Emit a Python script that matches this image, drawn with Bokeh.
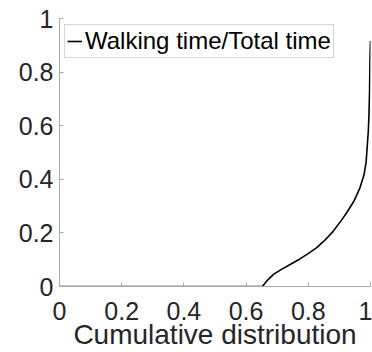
from bokeh.plotting import figure
from bokeh.models import FixedTicker, Legend, LegendItem, Range1d
from bokeh.embed import file_html
from bokeh.resources import INLINE

cum_dist = [0.0, 0.30, 0.60, 0.652, 0.670, 0.689, 0.715, 0.743, 0.770, 0.796, 0.825, 0.850,
            0.878, 0.904, 0.925, 0.946, 0.965, 0.979, 0.986, 0.989, 0.993, 0.995, 0.997, 0.998, 0.999, 1.0]
ratio = [0.0, 0.0, 0.0, 0.0, 0.025, 0.046, 0.065, 0.083, 0.101, 0.120, 0.143, 0.169,
         0.203, 0.243, 0.278, 0.317, 0.365, 0.416, 0.465, 0.515, 0.580, 0.638, 0.730, 0.823, 0.880, 0.916]
ticks = [0, 0.2, 0.4, 0.6, 0.8, 1]
tick_labels = {0: "0", 0.2: "0.2", 0.4: "0.4", 0.6: "0.6", 0.8: "0.8", 1: "1"}
series_label = "Walking time/Total time"
x_label = "Cumulative distribution"

FONT = "Liberation Sans"
TXT = "#262626"

p = figure(width=372, height=352, output_backend="svg", toolbar_location=None,
           x_range=Range1d(0, 1), y_range=Range1d(0, 1),
           min_border_left=59, min_border_right=2, min_border_top=18, min_border_bottom=63)
p.outline_line_color = None
p.xgrid.visible = False
p.ygrid.visible = False
p.background_fill_color = "white"

r = p.line(cum_dist, ratio, line_color="black", line_width=1.6)

for ax in (p.xaxis[0], p.yaxis[0]):
    ax.ticker = FixedTicker(ticks=ticks)
    ax.major_label_overrides = tick_labels
    ax.major_label_text_font = FONT
    ax.major_label_text_font_size = "25px"
    ax.major_label_text_color = TXT
    ax.axis_line_color = "#aaaaaa"
    ax.major_tick_line_color = "#aaaaaa"
    ax.major_tick_in = 4
    ax.major_tick_out = 0
    ax.minor_tick_line_color = None

p.yaxis[0].major_label_standoff = 6
p.xaxis[0].major_label_standoff = 15
p.xaxis[0].axis_label = x_label
p.xaxis[0].axis_label_text_font = FONT
p.xaxis[0].axis_label_text_font_size = "28px"
p.xaxis[0].axis_label_text_font_style = "normal"
p.xaxis[0].axis_label_text_color = TXT
p.xaxis[0].axis_label_standoff = -4

legend = Legend(items=[LegendItem(label=series_label, renderers=[r])],
                location=(5, 228), label_text_font=FONT, label_text_font_size="24px",
                label_text_color="black", glyph_width=15, glyph_height=26,
                label_standoff=3, padding=2, margin=0, spacing=0,
                border_line_color="#aaaaaa", border_line_width=1,
                background_fill_alpha=1.0)
p.add_layout(legend, "center")

open("out.html", "w").write(file_html(p, INLINE))
